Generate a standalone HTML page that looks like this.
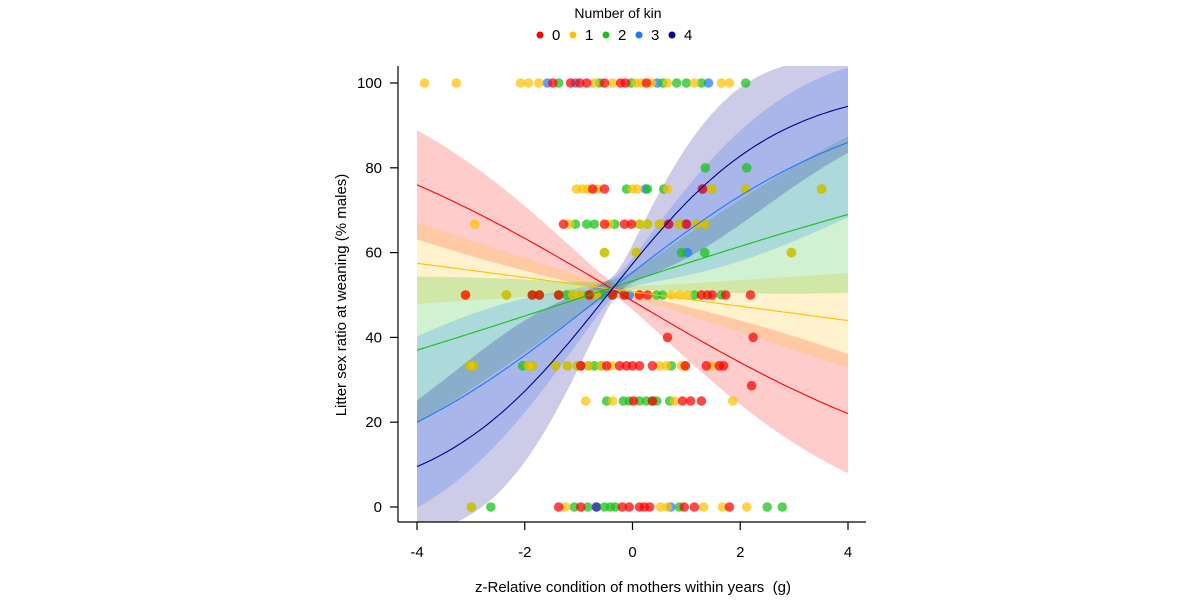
<!DOCTYPE html>
<html><head><meta charset="utf-8"><style>
body{margin:0;background:#fff;}
svg{display:block;font-family:"Liberation Sans",Arial,sans-serif;}
</style></head><body>
<svg id="chart" width="1200" height="600" viewBox="0 0 1200 600">
<defs><clipPath id="plotclip"><rect x="417" y="66" width="431" height="456"/></clipPath></defs>
<g id="legend">
<text x="618" y="18" text-anchor="middle" font-size="14">Number of kin</text>
</g>
<g id="bands" clip-path="url(#plotclip)"></g>
<g id="points"></g>
<g id="lines" clip-path="url(#plotclip)"></g>
<g id="axes">
<line x1="398" y1="66" x2="398" y2="522" stroke="#000" stroke-width="1.2"/>
<line x1="398" y1="522" x2="866" y2="522" stroke="#000" stroke-width="1.2"/>
</g>
<text x="633" y="592" text-anchor="middle" font-size="15" style="white-space:pre">z-Relative condition of mothers within years  (g)</text>
<text transform="translate(346,295) rotate(-90)" text-anchor="middle" font-size="15">Litter sex ratio at weaning (% males)</text>
</svg>
<script>
const kinLabels = ["0","1","2","3","4"];
const kinColors = ["#ff0000","#ffc000","#16c016","#1e78ff","#000090"];
const intercepts = [-0.056, 0.03, 0.134, 0.214, 0.296];
const slopes = [-0.302, -0.068, 0.1665, 0.400, 0.637];
const seSlope = [0.19, 0.105, 0.2, 0.34, 0.49];
const seBase = [0.06, 0.05, 0.07, 0.09, 0.11];
const seCenter = -0.3;
const xTicks = [-4, -2, 0, 2, 4];
const yTicks = [0, 20, 40, 60, 80, 100];
const pointRows = [
 [100, [[-3.86,1],[-3.27,1],[-2.08,1],[-1.93,1],[-1.74,1],[-1.58,3],[-1.48,0],[-1.37,2],[-1.15,0],[-1.06,3],[-0.98,0],[-0.85,0],[-0.71,1],[-0.61,2],[-0.52,0],[-0.37,1],[-0.22,0],[-0.13,0],[-0.02,2],[0.07,1],[0.17,1],[0.26,0],[0.35,1],[0.46,3],[0.56,2],[0.65,1],[0.82,2],[1.00,2],[1.15,1],[1.28,2],[1.41,3],[1.65,1],[1.80,1],[2.10,2]]],
 [80, [[1.35,2],[2.12,2]]],
 [75, [[-1.04,1],[-0.93,1],[-0.83,1],[-0.74,0],[-0.65,1],[-0.52,0],[-0.11,2],[0,1],[0.09,1],[0.24,3],[0.28,2],[0.58,2],[0.65,1],[1.30,0],[1.30,3],[1.47,1],[1.47,2],[2.10,1],[2.10,2],[3.51,1],[3.51,2]]],
 [66.7, [[-2.93,1],[-1.28,0],[-1.17,1],[-1.06,2],[-0.85,2],[-0.71,2],[-0.52,0],[-0.43,1],[-0.33,2],[-0.15,0],[-0.02,0],[0.13,1],[0.13,2],[0.28,1],[0.28,2],[0.50,1],[0.50,2],[0.67,0],[0.67,3],[0.87,1],[0.87,2],[1.00,0],[1.00,3],[1.19,1],[1.19,2],[1.34,1],[1.34,2]]],
 [60, [[-0.52,1],[-0.52,2],[0.07,1],[0.07,2],[0.91,2],[1.02,3],[1.34,2],[2.95,1],[2.95,2]]],
 [50, [[-3.10,0],[-3.10,1],[-2.34,1],[-2.34,2],[-1.86,0],[-1.86,2],[-1.73,0],[-1.73,2],[-1.37,0],[-1.37,2],[-1.22,2],[-1.11,1],[-1.11,2],[-0.98,1],[-0.98,2],[-0.80,0],[-0.80,2],[-0.67,1],[-0.67,2],[-0.56,2],[-0.37,0],[-0.37,2],[-0.15,0],[-0.15,2],[-0.06,3],[0.13,0],[0.13,1],[0.28,0],[0.45,2],[0.56,2],[0.72,1],[0.87,1],[1.02,1],[1.15,2],[1.28,0],[1.39,0],[1.48,0],[1.65,2],[1.73,0],[2.19,0]]],
 [40, [[0.65,0],[2.24,0]]],
 [33.3, [[-3.02,1],[-3.02,2],[-2.95,1],[-2.95,2],[-2.04,2],[-1.93,1],[-1.93,2],[-1.86,1],[-1.86,2],[-1.43,1],[-1.43,2],[-1.21,1],[-1.21,2],[-1.02,1],[-1.02,2],[-0.96,0],[-0.96,3],[-0.82,1],[-0.82,2],[-0.71,2],[-0.58,1],[-0.58,2],[-0.48,0],[-0.39,1],[-0.24,0],[-0.11,0],[0,0],[0.13,0],[0.37,0],[0.50,1],[0.63,1],[0.72,2],[0.91,1],[0.98,0],[0.98,1],[1.37,0],[1.47,1],[1.61,0],[1.69,0]]],
 [28.6, [[2.21,0]]],
 [25, [[-0.87,1],[-0.48,2],[-0.37,1],[-0.17,2],[-0.06,2],[0.02,0],[0.13,2],[0.26,2],[0.37,0],[0.37,2],[0.45,2],[0.69,2],[0.78,1],[0.93,0],[1.08,0],[1.28,0],[1.86,1]]],
 [0, [[-2.99,1],[-2.99,2],[-2.63,2],[-1.37,0],[-1.24,1],[-1.08,2],[-0.96,0],[-0.83,2],[-0.67,4],[-0.52,2],[-0.41,2],[-0.32,2],[-0.19,0],[-0.06,0],[0.13,0],[0.22,0],[0.32,0],[0.52,1],[0.65,1],[0.71,3],[0.87,2],[0.96,0],[1.15,0],[1.32,1],[1.67,1],[1.80,0],[2.12,1],[2.50,2],[2.78,2]]]
];

const NS = "http://www.w3.org/2000/svg";
const X0 = 417, X1 = 848, Y0 = 507, Y1 = 83;
function sx(v){ return X0 + (v + 4) / 8 * (X1 - X0); }
function sy(v){ return Y0 - v / 100 * (Y0 - Y1); }
function mk(tag, attrs, parent){
  const e = document.createElementNS(NS, tag);
  for (const k in attrs) e.setAttribute(k, attrs[k]);
  parent.appendChild(e);
  return e;
}
function fitP(i, x){ return 1 / (1 + Math.exp(-(intercepts[i] + slopes[i] * x))); }
function halfW(i, x){
  const p = fitP(i, x);
  return 100 * p * (1 - p) * Math.sqrt(seBase[i] * seBase[i] + seSlope[i] * seSlope[i] * (x - seCenter) * (x - seCenter));
}

const axes = document.getElementById('axes');
xTicks.forEach(t => {
  const l = mk('line', {x1: sx(t), x2: sx(t), y1: 522, y2: 530, stroke: '#000', 'stroke-width': 1.2}, axes);
  
  
  const tx = mk('text', {x: sx(t), y: 557, 'text-anchor': 'middle', 'font-size': 15}, axes);
  tx.textContent = String(t);
  
  
});
yTicks.forEach(t => {
  const l = mk('line', {x1: 390, x2: 398, y1: sy(t), y2: sy(t), stroke: '#000', 'stroke-width': 1.2}, axes);
  
  
  const tx = mk('text', {x: 382, y: sy(t) + 5, 'text-anchor': 'end', 'font-size': 15}, axes);
  tx.textContent = String(t);
  
  
});

const bands = document.getElementById('bands');
const lines = document.getElementById('lines');
for (let i = 0; i < kinLabels.length; i++) {
  const up = [], lo = [], ln = [];
  for (let s = 0; s <= 100; s++) {
    const x = -4 + 8 * s / 100;
    const p = 100 * fitP(i, x), h = halfW(i, x);
    up.push(sx(x).toFixed(1) + ',' + sy(p + h).toFixed(1));
    lo.unshift(sx(x).toFixed(1) + ',' + sy(p - h).toFixed(1));
    ln.push(sx(x).toFixed(1) + ',' + sy(p).toFixed(1));
  }
  const b = mk('polygon', {points: up.concat(lo).join(' '), fill: kinColors[i], 'fill-opacity': 0.2}, bands);
  
  
  const l = mk('polyline', {points: ln.join(' '), fill: 'none', stroke: kinColors[i], 'stroke-width': 1.1}, lines);
  
  
}

const pts = document.getElementById('points');
pointRows.forEach(row => {
  const sorted = row[1].slice().sort((a, b) => b[1] - a[1]);
  sorted.forEach(pt => {
    const c = mk('circle', {cx: sx(pt[0]), cy: sy(row[0]), r: 4.8, fill: kinColors[pt[1]], 'fill-opacity': 0.72}, pts);
    
    
  });
});

const legend = document.getElementById('legend');
const legX = [540, 573, 606, 639, 672];
kinLabels.forEach((k, i) => {
  const g = mk('g', {}, legend);
  
  
  mk('circle', {cx: legX[i], cy: 35, r: 3.5, fill: kinColors[i]}, g);
  const t = mk('text', {x: legX[i] + 12, y: 40, 'font-size': 15}, g);
  t.textContent = k;
});
</script>
</body></html>
